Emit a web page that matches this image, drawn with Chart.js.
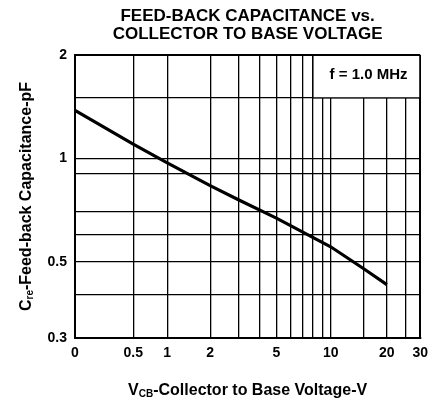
<!DOCTYPE html>
<html>
<head>
<meta charset="utf-8">
<script src="https://cdn.jsdelivr.net/npm/chart.js@4"></script>
<style>
  body { margin: 0; background: #fff; }
</style>
</head>
<body>
<canvas id="capChart" width="435" height="405"></canvas>
<script>
// Feed-back capacitance vs. collector to base voltage
// The voltage axis of the datasheet is logarithmic in (V + 0.5), so it can start at 0.
const X_OFFSET = 0.5;
const voltage = [0, 0.5, 1, 2, 3, 5, 10, 15, 20];
const capacitance = [1.38, 1.10, 0.97, 0.833, 0.758, 0.67, 0.553, 0.478, 0.429];

const xGrid = [0, 0.5, 1, 2, 3, 4, 5, 6, 7, 8, 9, 10, 15, 20, 25, 30];
const xTickValues = [0, 0.5, 1, 2, 5, 10, 20, 30];
const xTickLabels = ['0', '0.5', '1', '2', '5', '10', '20', '30'];

const yGrid = [0.3, 0.4, 0.5, 0.6, 0.7, 0.9, 1, 1.5, 2];
const yTickValues = [0.3, 0.5, 1, 2];
const yTickLabels = ['0.3', '0.5', '1', '2'];

const FONT = 'Liberation Sans, Arial, sans-serif';

function drawParts(ctx, parts, cx, cy) {
  // parts: [text, isSubscript]
  const font = p => (p[1] ? 'bold 10px ' : 'bold 16px ') + FONT;
  let w = 0;
  parts.forEach(p => { ctx.font = font(p); w += ctx.measureText(p[0]).width; });
  let xPos = cx - w / 2;
  ctx.textBaseline = 'middle';
  ctx.textAlign = 'left';
  parts.forEach(p => {
    ctx.font = font(p);
    ctx.fillText(p[0], xPos, p[1] ? cy + 3 : cy);
    xPos += ctx.measureText(p[0]).width;
  });
}

const annotate = {
  id: 'annotate',
  afterDraw(chart) {
    const { ctx, chartArea, scales: { x, y } } = chart;
    ctx.save();
    // frequency note box in the top right corner
    const l = x.getPixelForValue(8 + X_OFFSET);
    const b = y.getPixelForValue(1.5);
    const r = chartArea.right;
    const t = chartArea.top;
    ctx.fillStyle = '#fff';
    ctx.fillRect(l, t + 1, r - l - 1, b - t - 1);
    ctx.strokeStyle = '#000';
    ctx.lineWidth = 1.3;
    ctx.beginPath();
    ctx.moveTo(l, t);
    ctx.lineTo(l, b);
    ctx.lineTo(r, b);
    ctx.stroke();
    ctx.fillStyle = '#000';
    ctx.font = 'bold 15px ' + FONT;
    ctx.textAlign = 'center';
    ctx.textBaseline = 'middle';
    ctx.fillText('f = 1.0 MHz', (l + r) / 2 + 2, (t + b) / 2 - 2);

    // axis titles with subscripts
    drawParts(ctx, [['V', false], ['CB', true], ['-Collector to Base Voltage-V', false]],
      (chartArea.left + chartArea.right) / 2, 391);
    ctx.translate(27, (chartArea.top + chartArea.bottom) / 2);
    ctx.rotate(-Math.PI / 2);
    drawParts(ctx, [['C', false], ['re', true], ['-Feed-back Capacitance-pF', false]], 0, 0);
    ctx.restore();
  }
};

const gridWidth = edge => c => (c.tick && c.tick.value === edge) ? 2 : 1.3;

new Chart(document.getElementById('capChart'), {
  type: 'line',
  data: {
    datasets: [{
      data: voltage.map((v, i) => ({ x: v + X_OFFSET, y: capacitance[i] })),
      borderColor: '#000',
      borderWidth: 3.2,
      pointRadius: 0,
      tension: 0
    }]
  },
  options: {
    responsive: false,
    animation: false,
    layout: { padding: { right: 8 } },
    plugins: {
      legend: { display: false },
      tooltip: { enabled: false },
      title: {
        display: true,
        fullSize: false,
        text: ['FEED-BACK CAPACITANCE vs.', 'COLLECTOR TO BASE VOLTAGE'],
        color: '#000',
        font: { family: FONT, size: 17, weight: 'bold', lineHeight: 1.06 },
        padding: { top: 7, bottom: 12 }
      }
    },
    scales: {
      x: {
        type: 'logarithmic',
        min: 0 + X_OFFSET,
        max: 30 + X_OFFSET,
        afterBuildTicks: s => { s.ticks = xGrid.map(v => ({ value: v + X_OFFSET })); },
        afterFit: s => { s.height = 67; },
        grid: { color: '#000', lineWidth: gridWidth(30 + X_OFFSET), drawTicks: false },
        border: { color: '#000', width: 2 },
        ticks: {
          autoSkip: false,
          maxRotation: 0,
          padding: 7,
          color: '#000',
          font: { family: FONT, size: 14, weight: 'bold' },
          callback: (v, i) => {
            const k = xTickValues.indexOf(xGrid[i]);
            return k < 0 ? '' : xTickLabels[k];
          }
        }
      },
      y: {
        type: 'logarithmic',
        min: 0.3,
        max: 2,
        afterBuildTicks: s => { s.ticks = yGrid.map(v => ({ value: v })); },
        afterFit: s => { s.width = 75; },
        grid: { color: '#000', lineWidth: gridWidth(2), drawTicks: false },
        border: { color: '#000', width: 2 },
        ticks: {
          autoSkip: false,
          padding: 8,
          color: '#000',
          font: { family: FONT, size: 14, weight: 'bold' },
          callback: v => {
            const k = yTickValues.indexOf(v);
            return k < 0 ? '' : yTickLabels[k];
          }
        }
      }
    }
  },
  plugins: [annotate]
});
</script>
</body>
</html>
